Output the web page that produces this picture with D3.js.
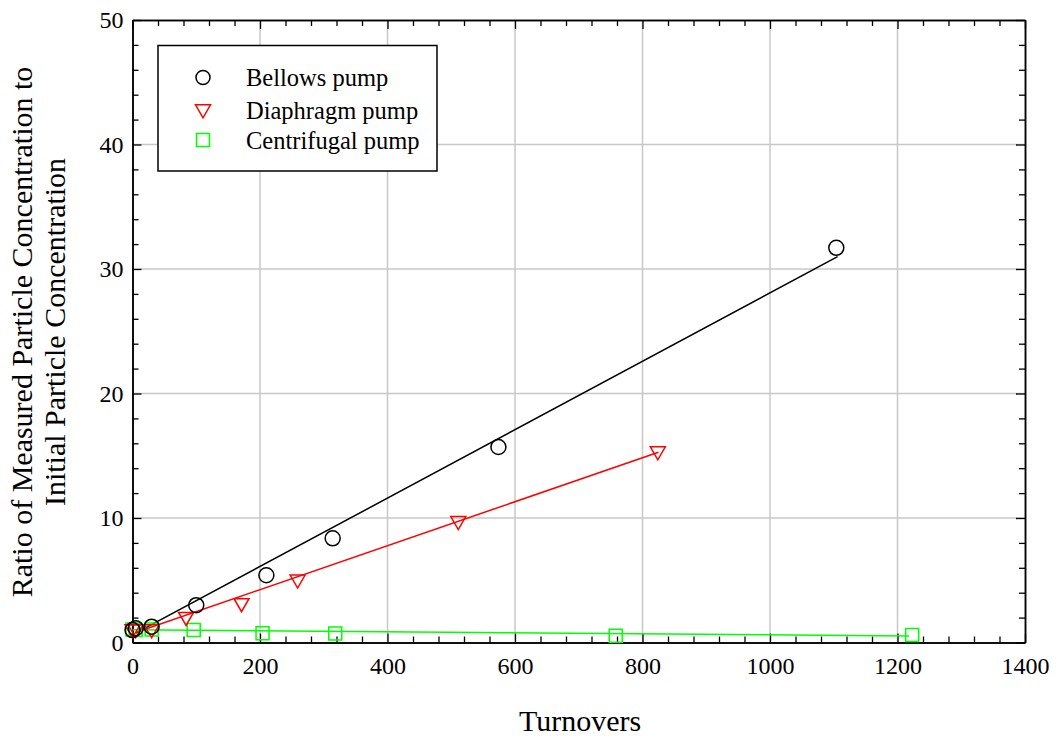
<!DOCTYPE html>
<html><head><meta charset="utf-8">
<script src="https://cdn.jsdelivr.net/npm/d3@7"></script>
<style>body{margin:0;background:#fff}svg{display:block}text{font-family:"Liberation Serif","Times New Roman",serif !important;fill:#000}</style>
</head><body>
<svg id="c" width="1058" height="740"></svg>
<script>
// Data
const bellowsX = [0, 5, 30, 100, 210, 314, 574, 1104];
const bellowsY = [1.0, 1.15, 1.27, 3.0, 5.4, 8.37, 15.7, 31.7];
const diaphragmX = [0, 5, 30, 84, 171, 259, 511, 824];
const diaphragmY = [1.0, 1.0, 1.0, 2.0, 3.1, 5.0, 9.7, 15.3];
const centrifugalX = [0, 5, 30, 96, 204, 318, 758, 1223];
const centrifugalY = [1.05, 1.0, 1.05, 1.0, 0.74, 0.72, 0.55, 0.6];
// Fit line endpoints
const bellowsFitX = [5, 1106];
const bellowsFitY = [0.75, 30.99];
const diaphragmFitX = [5, 825];
const diaphragmFitY = [0.8, 15.28];
const centrifugalFitX = [0, 1218];
const centrifugalFitY = [1.02, 0.52];
const xTicks = [0, 200, 400, 600, 800, 1000, 1200, 1400];
const yTicks = [0, 10, 20, 30, 40, 50];
const legendLabels = ["Bellows pump", "Diaphragm pump", "Centrifugal pump"];

const L = 132.5, R = 1025, T = 20, B = 642.5;
const svg = d3.select("#c");
const x = d3.scaleLinear().domain([0, 1400]).range([L, R]);
const y = d3.scaleLinear().domain([0, 50]).range([B, T]);

// grid
const g = svg.append("g");
g.selectAll(".gx").data(xTicks.slice(1, -1)).enter().append("line")
  .attr("x1", d => x(d)).attr("x2", d => x(d)).attr("y1", T).attr("y2", B)
  .attr("stroke", "#c8c8c8").attr("stroke-width", 1.5);
g.selectAll(".gy").data(yTicks.slice(1, -1)).enter().append("line")
  .attr("y1", d => y(d)).attr("y2", d => y(d)).attr("x1", L).attr("x2", R)
  .attr("stroke", "#c8c8c8").attr("stroke-width", 1.5);

// axes with inward ticks
const xMinor = d3.range(0, 1401, 40).filter(v => v % 200 !== 0);
const yMinor = d3.range(0, 51, 2).filter(v => v % 10 !== 0);
function axisGroup(axis, tr) {
  const a = svg.append("g").attr("transform", tr).call(axis);
  a.attr("font-family", null).attr("font-size", null);
  a.select(".domain").attr("stroke", "#000").attr("stroke-width", 1.5);
  a.selectAll(".tick line").attr("stroke", "#000").attr("stroke-width", 1.3);
  return a;
}
const bx = axisGroup(d3.axisBottom(x).tickValues(xTicks).tickFormat(d3.format("d")).tickSizeInner(-9).tickSizeOuter(0).tickPadding(14), `translate(0,${B})`);
bx.selectAll("text").attr("font-size", 24);
axisGroup(d3.axisBottom(x).tickValues(xMinor).tickSizeInner(-6).tickSizeOuter(0).tickFormat(""), `translate(0,${B})`);
axisGroup(d3.axisTop(x).tickValues(xTicks).tickSizeInner(-9).tickSizeOuter(0).tickFormat(""), `translate(0,${T})`);
axisGroup(d3.axisTop(x).tickValues(xMinor).tickSizeInner(-6).tickSizeOuter(0).tickFormat(""), `translate(0,${T})`);
const ly = axisGroup(d3.axisLeft(y).tickValues(yTicks).tickSizeInner(-9).tickSizeOuter(0).tickPadding(9), `translate(${L},0)`);
ly.selectAll("text").attr("font-size", 24);
axisGroup(d3.axisLeft(y).tickValues(yMinor).tickSizeInner(-6).tickSizeOuter(0).tickFormat(""), `translate(${L},0)`);
axisGroup(d3.axisRight(y).tickValues(yTicks).tickSizeInner(-9).tickSizeOuter(0).tickFormat(""), `translate(${R},0)`);
axisGroup(d3.axisRight(y).tickValues(yMinor).tickSizeInner(-6).tickSizeOuter(0).tickFormat(""), `translate(${R},0)`);

// fit lines
const line = d3.line().x(d => x(d[0])).y(d => y(d[1]));
const fits = [[bellowsFitX, bellowsFitY, "#000"], [diaphragmFitX, diaphragmFitY, "#ff0000"], [centrifugalFitX, centrifugalFitY, "#00ff00"]];
fits.forEach(([fx, fy, c]) => {
  svg.append("path").datum(fx.map((v, i) => [v, fy[i]])).attr("d", line)
    .attr("fill", "none").attr("stroke", c).attr("stroke-width", 1.5);
});

// markers
const circ = d3.symbol().type(d3.symbolCircle).size(Math.PI * 7.5 * 7.5);
function tri(cx, cy) { const w = 7.5, h = 13; return `M${cx - w},${cy - h * 0.4}L${cx + w},${cy - h * 0.4}L${cx},${cy + h * 0.6}Z`; }
function sq(cx, cy) { const s = 6.5; return `M${cx - s},${cy - s}h${2 * s}v${2 * s}h${-2 * s}Z`; }

svg.append("g").selectAll("path").data(centrifugalX.map((v, i) => [v, centrifugalY[i]])).enter().append("path")
  .attr("d", d => sq(x(d[0]), y(d[1]))).attr("fill", "none").attr("stroke", "#00ff00").attr("stroke-width", 1.5);
svg.append("g").selectAll("path").data(diaphragmX.map((v, i) => [v, diaphragmY[i]])).enter().append("path")
  .attr("d", d => tri(x(d[0]), y(d[1]))).attr("fill", "none").attr("stroke", "#ff0000").attr("stroke-width", 1.5);
svg.append("g").selectAll("path").data(bellowsX.map((v, i) => [v, bellowsY[i]])).enter().append("path")
  .attr("transform", d => `translate(${x(d[0])},${y(d[1])})`).attr("d", circ)
  .attr("fill", "none").attr("stroke", "#000").attr("stroke-width", 1.5);

// legend
const lg = svg.append("g");
lg.append("rect").attr("x", 158).attr("y", 45.5).attr("width", 279).attr("height", 125.5)
  .attr("fill", "#fff").attr("stroke", "#000").attr("stroke-width", 1.5);
const rowsY = [77.5, 110, 140];
const lc = d3.symbol().type(d3.symbolCircle).size(Math.PI * 7 * 7);
lg.append("path").attr("transform", `translate(203,${rowsY[0]})`).attr("d", lc).attr("fill", "none").attr("stroke", "#000").attr("stroke-width", 1.5);
lg.append("path").attr("d", tri(203, rowsY[1])).attr("fill", "none").attr("stroke", "#ff0000").attr("stroke-width", 1.5);
lg.append("path").attr("d", sq(203, rowsY[2])).attr("fill", "none").attr("stroke", "#00ff00").attr("stroke-width", 1.5);
legendLabels.forEach((t, i) => {
  lg.append("text").attr("x", 246).attr("y", rowsY[i]).attr("dy", "0.35em").attr("font-size", 24.5).text(t);
});

// axis titles
svg.append("text").attr("x", 580).attr("y", 731).attr("text-anchor", "middle").attr("font-size", 30).text("Turnovers");
const yt = svg.append("text").attr("transform", "translate(0,332) rotate(-90)").attr("text-anchor", "middle").attr("font-size", 30);
yt.append("tspan").attr("x", 0).attr("y", 32).text("Ratio of Measured Particle Concentration to");
yt.append("tspan").attr("x", 0).attr("y", 65).text("Initial Particle Concentration");
</script>
</body></html>
